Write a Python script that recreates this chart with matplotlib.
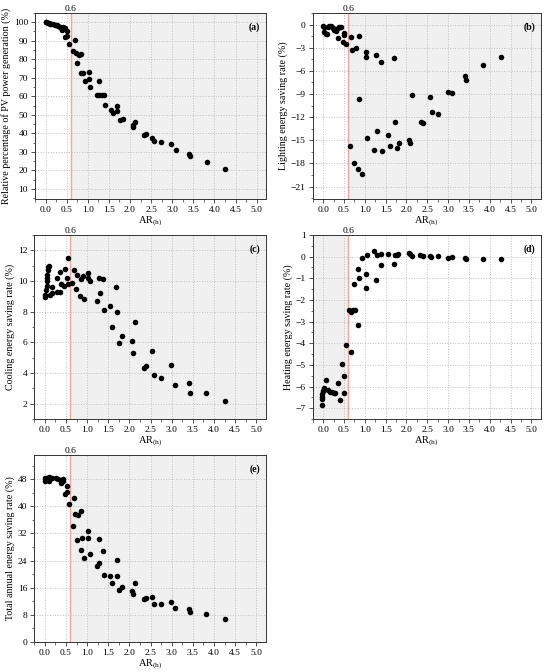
import matplotlib
matplotlib.use('Agg')
import matplotlib.pyplot as plt
from matplotlib.ticker import MultipleLocator, AutoMinorLocator

plt.rcParams['font.family'] = 'Liberation Serif'
plt.rcParams['mathtext.fontset'] = 'custom'
plt.rcParams['mathtext.rm'] = 'Liberation Serif'
plt.rcParams['mathtext.it'] = 'Liberation Serif:italic'

# (a) relative PV power generation
x_a = [0.0, 0.02, 0.06, 0.08, 0.1, 0.13, 0.18, 0.22, 0.26, 0.3, 0.34, 0.36, 0.38, 0.42,
       0.46, 0.46, 0.52, 0.52, 0.56, 0.66, 0.69, 0.72, 0.75, 0.79, 0.85, 0.84, 0.88,
       0.93, 1.03, 1.03, 1.05, 1.23, 1.27, 1.27, 1.33, 1.38, 1.41, 1.55, 1.59, 1.7, 1.7,
       1.77, 1.83, 2.06, 2.08, 2.12, 2.34, 2.39, 2.53, 2.57, 2.74, 2.98, 3.08, 3.4, 3.43,
       3.82, 4.26]
y_a = [100, 100, 99.8, 99.6, 99.3, 99.3, 98.9, 98.6, 98.3, 98.2, 97.5, 96.8, 95.8, 97.6,
       97.1, 92.2, 95.3, 92.5, 88.3, 84.2, 90.5, 83.3, 77.9, 82.3, 83.1, 72.5, 72.6,
       68.5, 72.9, 69.2, 65.1, 60.5, 60.5, 68.2, 60.6, 60.9, 55.5, 52.8, 51.0, 54.9, 51.9,
       47.3, 47.9, 44.7, 43.6, 45.9, 39.1, 39.5, 37.5, 35.7, 35.2, 34.1, 31.2, 28.9, 27.6,
       24.4, 20.5]

# (b) lighting energy saving rate
x_b = [0.0, 0.02, 0.03, 0.06, 0.1, 0.11, 0.15, 0.18, 0.23, 0.27, 0.31, 0.35, 0.39, 0.43,
       0.35, 0.47, 0.51, 0.51, 0.55, 0.67, 0.7, 0.78, 0.85, 1.02, 1.03, 1.27, 1.38, 1.7,
       0.64, 0.74, 0.83, 0.93, 0.87, 1.06, 1.23, 1.3, 1.41, 1.56, 1.6, 1.72, 1.77, 1.82,
       2.06, 2.08, 2.14, 2.34, 2.4, 2.57, 2.62, 2.76, 3.0, 3.1, 3.41, 3.44, 3.84, 4.28]
y_b = [-0.2, -0.3, -0.95, -1.2, -1.2, -0.3, -0.25, -0.2, -0.4, -0.65, -0.8, -0.5, -0.3, -0.3,
       -1.7, -2.2, -1.1, -1.4, -2.5, -1.6, -3.3, -3.1, -1.5, -3.5, -4.2, -4.0, -4.9, -4.3,
       -15.7, -18.0, -18.7, -19.4, -9.6, -14.7, -16.3, -13.8, -16.4, -14.3, -15.8, -12.6,
       -16.0, -15.4, -15.0, -15.4, -9.1, -12.6, -12.8, -9.4, -11.3, -11.6, -8.7, -8.9,
       -6.7, -7.2, -5.3, -4.2]

# (c) cooling energy saving rate
x_c = [0.0, 0.0, 0.02, 0.04, 0.05, 0.06, 0.06, 0.07, 0.08, 0.1, 0.12, 0.18, 0.18, 0.28,
       0.28, 0.36, 0.36, 0.39, 0.46, 0.47, 0.52, 0.55, 0.54, 0.64, 0.7, 0.73, 0.77, 0.83,
       0.86, 0.9, 0.93, 1.03, 1.03, 1.07, 1.23, 1.27, 1.3, 1.37, 1.4, 1.55, 1.58, 1.68,
       1.7, 1.76, 1.82, 2.05, 2.08, 2.12, 2.34, 2.39, 2.54, 2.59, 2.74, 2.98, 3.08, 3.4,
       3.43, 3.82, 4.25]
y_c = [8.96, 9.06, 9.4, 9.7, 10.0, 10.2, 10.4, 10.7, 10.9, 11.0, 9.06, 9.2, 9.6, 9.3,
       10.2, 9.3, 10.6, 9.8, 9.7, 10.8, 10.2, 11.5, 9.8, 9.9, 10.7, 9.45, 10.4, 9.0,
       10.1, 10.3, 8.85, 10.5, 10.2, 10.0, 8.7, 10.2, 9.2, 10.1, 8.1, 8.4, 7.0, 9.6,
       8.0, 5.95, 6.4, 6.1, 5.3, 7.35, 4.3, 4.45, 5.45, 3.9, 3.7, 4.5, 3.2, 3.35,
       2.7, 2.7, 2.2]

# (d) heating energy saving rate
x_d = [-0.02, -0.03, -0.03, -0.02, 0.0, 0.01, 0.03, 0.07, 0.11, 0.17, 0.21, 0.25, 0.29,
       0.35, 0.41, 0.45, 0.5, 0.51, 0.54, 0.63, 0.67, 0.71, 0.76, 0.84, 0.67, 0.74, 0.83,
       0.87, 1.02, 1.02, 0.93, 1.05, 1.23, 1.27, 1.3, 1.38, 1.4, 1.56, 1.7, 1.73, 1.77,
       1.8, 2.05, 2.08, 2.13, 2.33, 2.4, 2.56, 2.6, 2.76, 3.0, 3.1, 3.41, 3.44, 3.84, 4.28]
y_d = [-6.84, -6.58, -6.5, -6.35, -6.2, -6.12, -6.05, -5.7, -6.17, -6.23, -6.26, -6.28,
       -6.28, -5.85, -6.63, -4.94, -6.28, -5.51, -4.06, -2.45, -2.56, -2.47, -2.47, -3.17,
       -4.39, -1.27, -0.58, -1.0, -0.81, -1.45, -0.08, 0.08, 0.26, -1.07, 0.08, -0.38,
       0.12, 0.12, -0.35, 0.08, 0.08, 0.1, 0.15, 0.1, 0.03, 0.08, 0.05, 0.03, 0.0, 0.05,
       -0.08, -0.03, -0.08, -0.09, -0.09, -0.11]

# (e) total annual energy saving rate
x_e = [0.0, 0.0, 0.04, 0.06, 0.09, 0.1, 0.14, 0.18, 0.26, 0.32, 0.38, 0.42, 0.38, 0.44,
       0.47, 0.52, 0.52, 0.56, 0.69, 0.66, 0.72, 0.78, 0.85, 0.75, 0.85, 0.88, 0.93, 1.03,
       1.03, 1.06, 1.23, 1.27, 1.27, 1.38, 1.41, 1.55, 1.59, 1.7, 1.7, 1.76, 1.82, 2.05,
       2.08, 2.12, 2.34, 2.39, 2.54, 2.58, 2.74, 2.98, 3.08, 3.4, 3.43, 3.82, 4.25]
y_e = [48.5, 47.6, 48.5, 48.0, 48.7, 47.5, 48.3, 48.5, 48.3, 48.1, 47.8, 48.0, 46.8, 47.5,
       43.6, 44.4, 46.1, 40.7, 42.6, 34.2, 37.7, 37.4, 38.7, 30.2, 27.1, 30.8, 24.8, 32.7,
       30.7, 25.8, 22.5, 23.4, 30.3, 26.8, 19.7, 19.4, 17.5, 24.2, 19.5, 15.4, 16.2, 15.1,
       14.1, 17.3, 12.5, 12.8, 13.1, 11.2, 11.0, 11.6, 9.9, 9.6, 8.9, 8.1, 6.8]

threshold = 0.6

panels = [
    dict(x=x_a, y=y_a, tag='(a)', ylabel='Relative percentage of PV power generation (%)',
         ylim=(4.5, 105), ystep=10, shade='right',
         rect=[0.0636, 0.7039, 0.4200, 0.2768]),
    dict(x=x_b, y=y_b, tag='(b)', ylabel='Lighting energy saving rate (%)',
         ylim=(-22.6, 1.5), ystep=3, shade='right',
         rect=[0.5685, 0.7039, 0.4145, 0.2768]),
    dict(x=x_c, y=y_c, tag='(c)', ylabel='Cooling energy saving rate (%)',
         ylim=(1, 13), ystep=2, shade='right',
         rect=[0.0624, 0.3765, 0.4204, 0.2738]),
    dict(x=x_d, y=y_d, tag='(d)', ylabel='Heating energy saving rate (%)',
         ylim=(-7.5, 1), ystep=1, shade='left',
         rect=[0.5685, 0.3765, 0.4145, 0.2738]),
    dict(x=x_e, y=y_e, tag='(e)', ylabel='Total annual energy saving rate (%)',
         ylim=(0, 55.2), ystep=8, shade='right',
         rect=[0.0624, 0.0451, 0.4204, 0.2778]),
]

xmin, xmax = -0.25, 5.22

fig = plt.figure(figsize=(5.5, 6.72), dpi=100)

for p in panels:
    ax = fig.add_axes(p['rect'])
    if p['shade'] == 'right':
        ax.axvspan(threshold, xmax, color='#f0f0f0', zorder=0, lw=0)
    else:
        ax.axvspan(xmin, threshold, color='#f0f0f0', zorder=0, lw=0)
    ax.axvline(threshold, color='#f5a3a3', lw=1.0, zorder=1)
    ax.scatter(p['x'], p['y'], s=16, color='black', zorder=3, lw=0)

    ax.set_xlim(xmin, xmax)
    ax.set_ylim(*p['ylim'])
    ax.xaxis.set_major_locator(MultipleLocator(0.5))
    ax.xaxis.set_minor_locator(AutoMinorLocator(2))
    ax.yaxis.set_major_locator(MultipleLocator(p['ystep']))
    ax.yaxis.set_minor_locator(AutoMinorLocator(2))
    ax.xaxis.set_major_formatter(plt.FormatStrFormatter('%.1f'))
    if p['tag'] == '(a)':
        ax.set_yticks(range(10, 101, 10))
    ax.grid(True, which='major', color='#c0c0c0', linestyle=':', linewidth=0.7, zorder=0)
    ax.set_axisbelow(True)

    ax.tick_params(which='both', direction='out', labelsize=6.8, color='#333333', pad=2)
    ax.tick_params(which='major', length=3, width=0.6)
    ax.tick_params(which='minor', length=1.8, width=0.5)
    for s in ax.spines.values():
        s.set_color('#333333')
        s.set_linewidth(0.7)

    ax.set_xlabel(r'AR$_{\mathrm{(h)}}$', fontsize=7.5, labelpad=1)
    ax.set_ylabel(p['ylabel'], fontsize=7.2, labelpad=2)
    ax.text(0.975, 0.95, p['tag'], transform=ax.transAxes, ha='right', va='top',
            fontsize=7, fontweight='bold')
    ax.text(threshold, p['ylim'][1], '0.6', ha='center', va='bottom', fontsize=6.8)

fig.savefig('out.png', dpi=100)
